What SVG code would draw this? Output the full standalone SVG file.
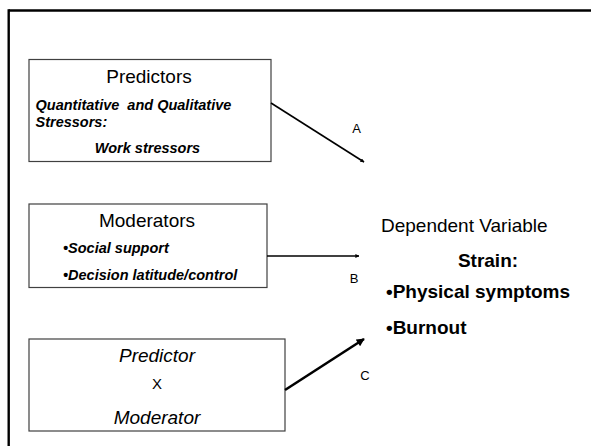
<svg xmlns="http://www.w3.org/2000/svg" width="591" height="446" viewBox="0 0 591 446">
<defs>
<style>
.box{fill:#fff;stroke:#404040;stroke-width:1.2}
.t{font-family:"Liberation Sans",Arial,sans-serif;fill:#000}
.h{font-size:19px}
.bi{font-size:14.5px;font-weight:bold;font-style:italic}
.lbl{font-size:13px}
.con{stroke:#000;fill:none}
</style>
<marker id="ah" viewBox="0 0 10 10" refX="9" refY="5" markerWidth="4" markerHeight="4" orient="auto" markerUnits="userSpaceOnUse">
<path d="M0,0 L10,5 L0,10 z" fill="#000"/>
</marker>
<marker id="ah2" viewBox="0 0 10 10" refX="9" refY="5" markerWidth="9" markerHeight="8" orient="auto" markerUnits="userSpaceOnUse">
<path d="M0,0 L10,5 L0,10 z" fill="#000"/>
</marker>
</defs>
<rect width="591" height="446" fill="#fff"/>
<g id="frame">
<line x1="8.7" y1="10.5" x2="591" y2="10.5" stroke="#000" stroke-width="2.4"/>
<line x1="8.7" y1="9.3" x2="8.7" y2="446" stroke="#000" stroke-width="2.4"/>
</g>
<g id="predictors">
<rect class="box" x="29" y="59.5" width="242" height="102"/>
<text class="t h" x="149" y="83" text-anchor="middle">Predictors</text>
<text class="t bi" x="35.5" y="110" xml:space="preserve">Quantitative  and Qualitative</text>
<text class="t bi" x="35.5" y="127">Stressors:</text>
<text class="t bi" x="147.5" y="153" text-anchor="middle">Work stressors</text>
</g>
<g id="moderators">
<rect class="box" x="29" y="204" width="238" height="83.5"/>
<text class="t h" x="147" y="226.5" text-anchor="middle">Moderators</text>
<text class="t bi" x="63" y="253">•Social support</text>
<text class="t bi" x="63" y="280">•Decision latitude/control</text>
</g>
<g id="interaction">
<rect class="box" x="29" y="339" width="256" height="92"/>
<text class="t h" x="157" y="361.5" text-anchor="middle" font-style="italic">Predictor</text>
<text class="t" x="157" y="388.5" text-anchor="middle" font-size="15">X</text>
<text class="t h" x="157" y="423.5" text-anchor="middle" font-style="italic">Moderator</text>
</g>
<g id="dependent">
<text class="t h" x="381" y="232" font-size="19.4">Dependent Variable</text>
<text class="t h" x="488" y="266.5" text-anchor="middle" font-weight="bold">Strain:</text>
<text class="t h" x="386" y="297.5" font-weight="bold">•Physical symptoms</text>
<text class="t h" x="386" y="334" font-weight="bold">•Burnout</text>
</g>
<g id="connectors">
<line class="con" x1="271" y1="103" x2="364" y2="162" stroke-width="1.6" marker-end="url(#ah)"/>
<line class="con" x1="267" y1="256" x2="359" y2="256" stroke-width="1.6" marker-end="url(#ah)"/>
<line class="con" x1="285" y1="390" x2="364" y2="339" stroke-width="2.6" marker-end="url(#ah2)"/>
<text class="t lbl" x="356.5" y="133" text-anchor="middle">A</text>
<text class="t lbl" x="354" y="283" text-anchor="middle">B</text>
<text class="t lbl" x="365" y="380" text-anchor="middle">C</text>
</g>
</svg>
